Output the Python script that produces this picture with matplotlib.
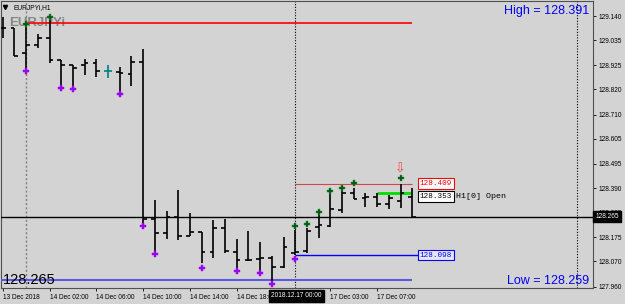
import matplotlib
matplotlib.use('Agg')
import matplotlib.pyplot as plt
import matplotlib.transforms as mtransforms

plt.rcParams['font.family'] = ['Liberation Sans', 'DejaVu Sans']

# EURJPYi H1 bars (13 Dec 22:00 .. 17 Dec 10:00)
opens = [129.086, 129.086, 128.977, 129.014, 129.043, 128.948, 128.926, 128.926, 128.934, 128.900,
         128.896, 128.886, 128.941, 128.254, 128.195, 128.265, 128.182, 128.200, 128.113, 128.215,
         128.113, 128.076, 128.081, 128.084, 128.047, 128.107, 128.117, 128.220, 128.225, 128.294,
         128.367, 128.345, 128.350, 128.322, 128.335, 128.353]
highs = [129.134, 129.086, 129.111, 129.062, 129.144, 128.948, 128.926, 128.951, 128.951, 128.926,
         128.918, 128.966, 128.996, 128.338, 128.290, 128.381, 128.280, 128.200, 128.251, 128.255,
         128.168, 128.204, 128.156, 128.094, 128.178, 128.207, 128.215, 128.277, 128.364, 128.377,
         128.392, 128.370, 128.370, 128.360, 128.409, 128.391]
lows = [129.043, 128.966, 128.905, 128.999, 128.934, 128.835, 128.829, 128.883, 128.873, 128.871,
        128.804, 128.835, 128.238, 128.116, 128.168, 128.164, 128.182, 128.062, 128.086, 128.106,
        128.037, 128.073, 128.033, 127.975, 128.040, 128.096, 128.108, 128.171, 128.222, 128.280,
        128.341, 128.309, 128.309, 128.297, 128.302, 128.259]
closes = [129.086, 128.966, 129.014, 129.043, 128.948, 128.926, 128.912, 128.936, 128.902, 128.900,
          128.890, 128.941, 128.255, 128.195, 128.265, 128.182, 128.200, 128.110, 128.215, 128.116,
          128.076, 128.076, 128.084, 128.047, 128.134, 128.110, 128.204, 128.229, 128.297, 128.367,
          128.341, 128.350, 128.320, 128.345, 128.370, 128.265]
doji_bar = 9

# fractal style dots
up_idx = [2, 4, 25, 26, 27, 28, 29, 30, 34]
up_val = [129.104, 129.137, 128.226, 128.233, 128.287, 128.378, 128.392, 128.413, 128.433]
dn_idx = [2, 5, 6, 10, 12, 13, 17, 20, 22, 23, 25]
dn_val = [128.900, 128.825, 128.822, 128.800, 128.226, 128.101, 128.043, 128.030, 128.018, 127.970, 128.081]

price_ticks = [129.140, 129.035, 128.925, 128.820, 128.710, 128.605, 128.495, 128.390,
               128.285, 128.175, 128.070, 127.960]
time_idx = [0, 4, 8, 12, 16, 20, 28, 32]
time_lbl = ['13 Dec 2018', '14 Dec 02:00', '14 Dec 06:00', '14 Dec 10:00', '14 Dec 14:00',
            '14 Dec 18:00', '17 Dec 03:00', '17 Dec 07:00']

bid = 128.265
top_level = 129.111
prev_high = 128.409
open_h1 = 128.353
green_level = 128.370
prev_low = 128.098
low_level = 127.989

bg = '#D3D3D3'
fig = plt.figure(figsize=(6.25, 3.04), dpi=100, facecolor=bg)
ax = fig.add_axes([1.5/625, 16.5/304, 591.5/625, 287/304], facecolor=bg)

w = 0.32
n = len(opens)
for i in range(n):
    c = '#008080' if i == doji_bar else 'black'
    ax.vlines(i, lows[i], highs[i], color=c, lw=1.2, zorder=4)
    ax.hlines(opens[i], i - w, i, color=c, lw=1.2, zorder=4)
    ax.hlines(closes[i], i, i + w, color=c, lw=1.2, zorder=4)

ax.plot(up_idx, up_val, 'P', color='#005A00', ms=4, mec='#2E8B57', mew=0.3, zorder=5)
ax.plot(dn_idx, dn_val, 'P', color='#9B00F0', ms=4, mew=0.3, zorder=5)

# horizontal levels
ax.axhline(bid, color='black', lw=1, zorder=3)
ax.hlines(top_level, 2, 35, color='#FF0000', lw=1.2, zorder=3)
ax.hlines(prev_high, 25, 35, color='#D04848', lw=0.8, zorder=3)
ax.hlines(green_level, 32, 35, color='#00E000', lw=2, zorder=3)
ax.hlines(prev_low, 25, 35.7, color='blue', lw=1, zorder=3)
ax.hlines(low_level, -0.2, 35, color='#5A5AE6', lw=1.5, zorder=3)

# vertical separators
ax.axvline(2, color='#808080', lw=1, ls=(0, (1.5, 1.5)), zorder=2)
ax.axvline(25, color='black', lw=0.8, ls=(0, (1, 1.5)), zorder=2)
ax.axvline(49.1, color='black', lw=0.8, ls=(0, (1, 1.5)), zorder=2)

# level labels
ax.text(37, prev_high, '128.409', color='red', fontsize=5.5, family='Liberation Mono',
        ha='center', va='center', zorder=6,
        bbox=dict(boxstyle='square,pad=0.25', fc='white', ec='red', lw=0.8))
ax.text(37, open_h1, '128.353', color='black', fontsize=5.5, family='Liberation Mono',
        ha='center', va='center', zorder=6,
        bbox=dict(boxstyle='square,pad=0.25', fc='white', ec='black', lw=0.8))
ax.text(37, prev_low, '128.098', color='blue', fontsize=5.5, family='Liberation Mono',
        ha='center', va='center', zorder=6,
        bbox=dict(boxstyle='square,pad=0.25', fc='#E6E6FF', ec='blue', lw=0.8))
ax.text(38.75, open_h1, 'H1[0] Open', color='black', fontsize=6, family='Liberation Mono',
        ha='left', va='center', zorder=6)
ax.text(34, 128.472, '⇩', color='#FF4040', fontsize=9, family='DejaVu Sans',
        ha='center', va='center', zorder=6)

# texts in axes coords
ax.text(0.9932, 0.965, 'High = 128.391', color='blue', fontsize=9, ha='right', va='center',
        transform=ax.transAxes)
ax.text(0.9932, 0.0233, 'Low = 128.259', color='blue', fontsize=9, ha='right', va='center',
        transform=ax.transAxes)
ax.text(0.0025, 0.026, '128.265', color='black', fontsize=10.5, ha='left', va='center',
        transform=ax.transAxes, zorder=6)
ax.text(0.02, 0.977, 'EURJPYi,H1', color='black', fontsize=4.8, ha='left', va='center',
        transform=ax.transAxes)
ax.plot([0.0065], [0.977], 'v', color='black', ms=3, transform=ax.transAxes)
ax.text(0.0132, 0.9206, 'EURJPYi', color='#868686', fontsize=9.5, fontweight='bold',
        family=['Liberation Sans Narrow', 'Liberation Sans'], ha='left', va='center',
        transform=ax.transAxes, zorder=1)

ax.set_xlim(-0.103, 50.45)
ax.set_ylim(127.9565, 129.2076)

ax.yaxis.tick_right()
ax.set_yticks(price_ticks)
ax.set_yticklabels(['%.3f' % v for v in price_ticks])
ax.tick_params(axis='y', labelsize=4.7, length=2.2, width=0.6, pad=1.5, colors='black')
for lb in ax.get_yticklabels():
    lb.set_horizontalalignment('left')

ax.set_xticks(time_idx)
ax.set_xticklabels(time_lbl)
ax.tick_params(axis='x', labelsize=4.7, length=2.5, width=0.6, pad=2.5)
for lb in ax.get_xticklabels():
    lb.set_horizontalalignment('left')

# current price tag on price scale and crosshair time tag
bt = mtransforms.blended_transform_factory(ax.transAxes, ax.transData)
ax.text(1.004, bid, '128.265', color='white', fontsize=4.7, ha='left', va='center',
        transform=bt, clip_on=False, zorder=7,
        bbox=dict(boxstyle='square,pad=0.3', fc='black', ec='black'))
bx = mtransforms.blended_transform_factory(ax.transData, ax.transAxes)
ax.text(25.1, -0.029, '2018.12.17 00:00', color='white', fontsize=4.7, ha='center', va='center',
        transform=bx, clip_on=False, zorder=7,
        bbox=dict(boxstyle='square,pad=0.35', fc='black', ec='black'))

for s in ax.spines.values():
    s.set_color('#505050')
    s.set_linewidth(0.8)

fig.savefig('out.png', dpi=100, facecolor=bg)
